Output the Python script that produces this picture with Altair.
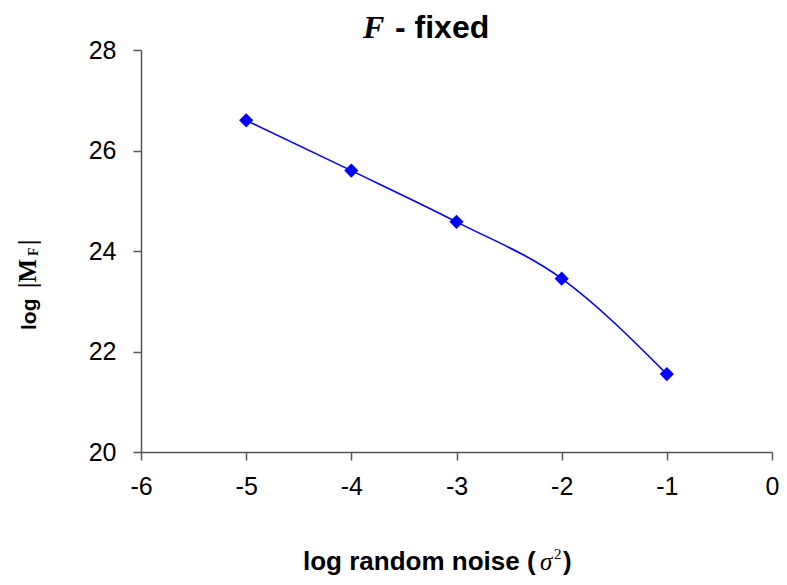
import altair as alt
import pandas as pd

# data
noise_log = [-5, -4, -3, -2, -1]
mf_log = [26.6, 25.6, 24.58, 23.45, 21.55]
x_ticks = [-6, -5, -4, -3, -2, -1, 0]
y_ticks = [20, 22, 24, 26, 28]

df = pd.DataFrame({"x": noise_log, "y": mf_log})

SANS = "Liberation Sans"
SERIF = "Liberation Serif"
BLUE = "#0000FF"

xs = alt.X("x:Q", scale=alt.Scale(domain=[-6, 0], nice=False, zero=False),
           axis=alt.Axis(values=x_ticks, title=None, labelPadding=14, labelFlush=False,
                         labelExpr="'' + datum.value"))
ys = alt.Y("y:Q", scale=alt.Scale(domain=[20, 28], nice=False, zero=False),
           axis=alt.Axis(values=y_ticks, title=None, labelPadding=17, labelFlush=False,
                         labelExpr="'' + datum.value"))

base = alt.Chart(df)
line = base.mark_line(color=BLUE, strokeWidth=1.6, interpolate="monotone").encode(x=xs, y=ys)
pts = base.mark_point(shape="diamond", filled=True, color=BLUE, size=200, opacity=1).encode(x=xs, y=ys)


def txt(s, gx, gy, font=SANS, size=25, bold=True, italic=False, angle=0, align="left"):
    kw = dict(font=font, fontSize=size, fontWeight="bold" if bold else "normal",
              align=align, baseline="alphabetic", color="black")
    if italic:
        kw["fontStyle"] = "italic"
    if angle:
        kw["angle"] = angle
    return alt.Chart(pd.DataFrame({"t": [s]})).mark_text(**kw).encode(
        text="t:N", x=alt.value(gx), y=alt.value(gy))


# title "F - fixed"
t1 = txt("F", 222, -12, font=SERIF, size=32, italic=True)
t2 = txt("- fixed", 254, -12, size=32)

# x axis title "log random noise (σ²)"
xt1 = txt("log random noise (", 162, 520, size=26)
xt2 = txt("σ", 399, 520, font=SERIF, size=25, bold=False, italic=True)
xt3 = txt("2", 413, 509, font=SERIF, size=15, bold=False)
xt4 = txt(")", 422, 520, size=26)

# y axis title "log |M_F|"
yt1 = txt("log", -105, 280, size=21, angle=270)
yt2 = txt("|M", -105, 238, font=SERIF, size=25, angle=270)
yt3 = txt("F", -103, 206, font=SERIF, size=14, angle=270)
yt4 = txt("|", -105, 195, font=SERIF, size=25, angle=270)

chart = alt.layer(line, pts, t1, t2, xt1, xt2, xt3, xt4, yt1, yt2, yt3, yt4).properties(
    width=631, height=402,
    autosize=alt.AutoSizeParams(type="none"),
    padding={"left": 133, "top": 42, "right": 7, "bottom": 125},
).configure_view(stroke=None).configure_axis(
    grid=False, labelFont=SANS, labelFontSize=25, labelColor="black",
    domainColor="#555555", tickColor="#555555", domainWidth=1.5, tickWidth=1.5,
    tickSize=8,
)

chart.save("out.html", embed_options={"renderer": "svg", "actions": False})
